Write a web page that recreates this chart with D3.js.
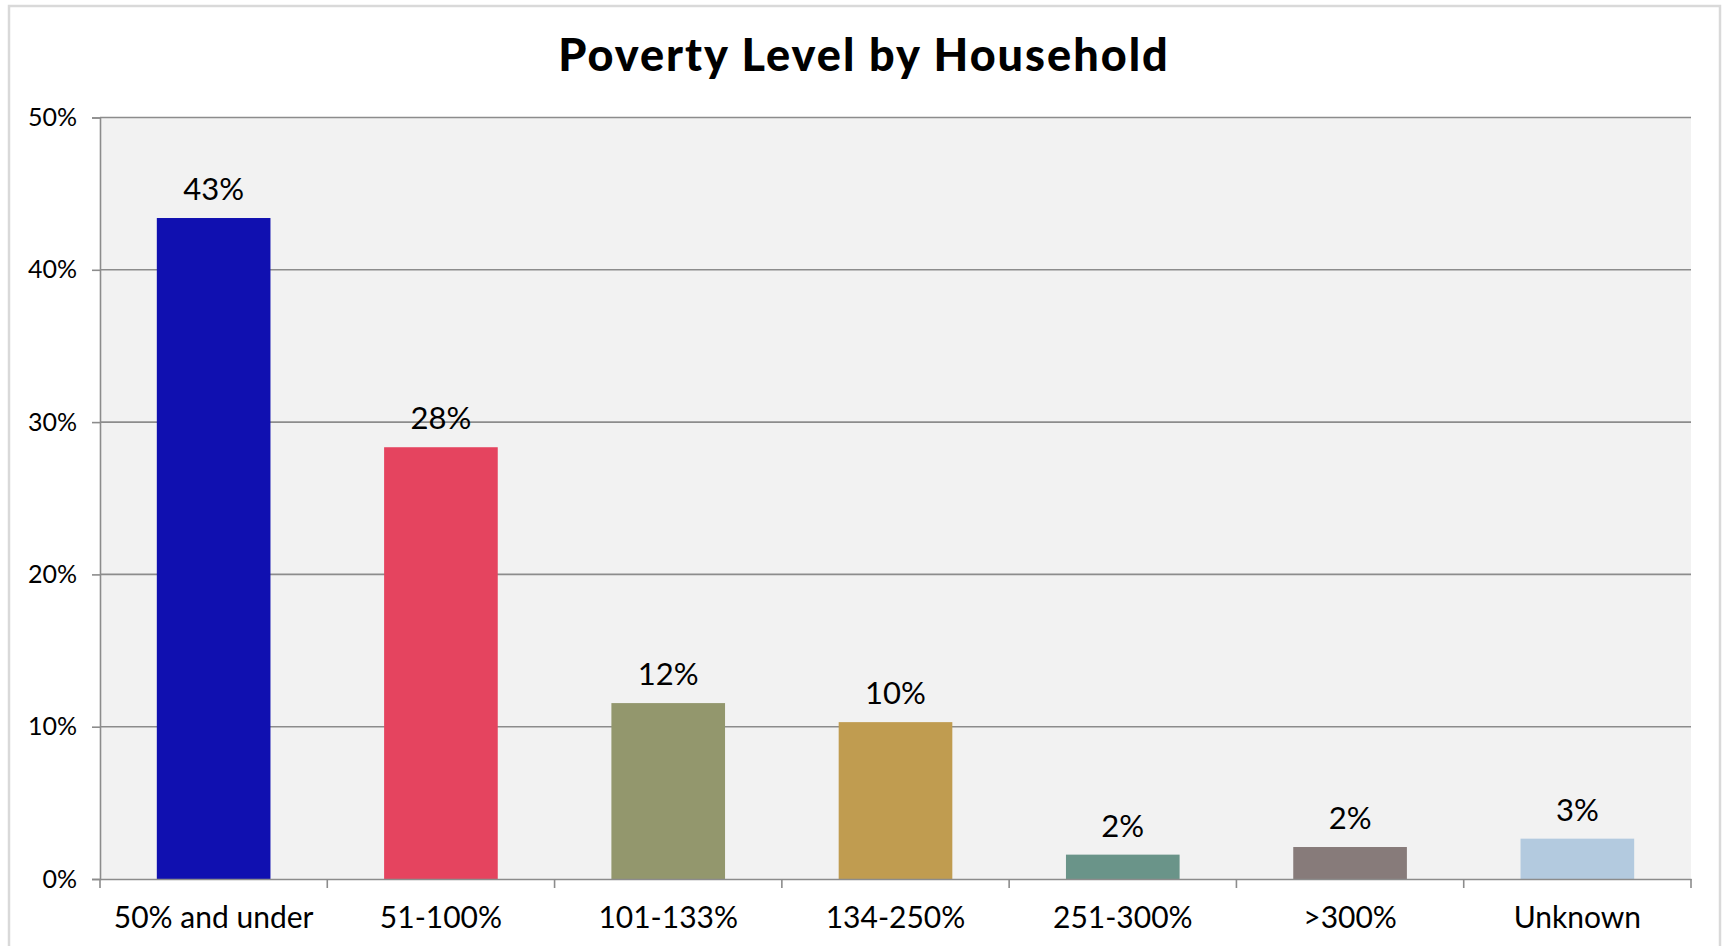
<!DOCTYPE html>
<html>
<head>
<meta charset="utf-8">
<script src="https://cdn.jsdelivr.net/npm/d3@7"></script>
<style>
  html, body { margin: 0; padding: 0; background: #ffffff; }
  svg { display: block; font-family: Lato, "Noto Sans", sans-serif; }
</style>
</head>
<body>
<svg id="chart" width="1723" height="946"></svg>
<script>
// ---- data ----
const categories = ["50% and under", "51-100%", "101-133%", "134-250%", "251-300%", ">300%", "Unknown"];
const values = [43.4, 28.35, 11.55, 10.3, 1.6, 2.1, 2.65];
const colors = ["#1010B0", "#E5445F", "#93976D", "#C09C50", "#6A9489", "#877B7A", "#B3CADF"];
const yTicks = [0, 10, 20, 30, 40, 50];
const title = "Poverty Level by Household";

// ---- layout ----
const W = 1723, H = 946;
const plot = { left: 100, right: 1691, top: 117.5, bottom: 879 };

const svg = d3.select("#chart");

// outer frame
svg.append("rect")
  .attr("x", 9).attr("y", 6)
  .attr("width", 1711).attr("height", 960)
  .attr("fill", "#ffffff")
  .attr("stroke", "#d9d9d9").attr("stroke-width", 2.5);

// title
svg.append("text")
  .attr("x", 864).attr("y", 71)
  .attr("text-anchor", "middle")
  .attr("font-size", 45).attr("font-weight", 900)
  .attr("letter-spacing", 2)
  .attr("fill", "#000")
  .text(title);

const x = d3.scaleBand().domain(categories).range([plot.left, plot.right]).padding(0);
const y = d3.scaleLinear().domain([0, 50]).range([plot.bottom, plot.top]);

// plot background
svg.append("rect")
  .attr("x", plot.left).attr("y", plot.top)
  .attr("width", plot.right - plot.left).attr("height", plot.bottom - plot.top)
  .attr("fill", "#f2f2f2");

// gridlines
svg.append("g").selectAll("line").data(yTicks.filter(d => d > 0)).join("line")
  .attr("x1", plot.left).attr("x2", plot.right)
  .attr("y1", d => y(d)).attr("y2", d => y(d))
  .attr("stroke", "#8c8c8c").attr("stroke-width", 1.6);

// y axis
const yAxis = svg.append("g")
  .attr("transform", `translate(${plot.left},0)`)
  .call(d3.axisLeft(y).tickValues(yTicks).tickFormat(d => d + "%").tickSize(8).tickPadding(15));
yAxis.select(".domain").attr("stroke", "#8c8c8c").attr("stroke-width", 1.6);
yAxis.selectAll(".tick line").attr("stroke", "#8c8c8c").attr("stroke-width", 1.6);
yAxis.selectAll(".tick text").attr("font-size", 25).attr("fill", "#000")
  .attr("font-family", "Lato, 'Noto Sans', sans-serif");

// bars
const barW = x.bandwidth() * 0.5;
svg.append("g").selectAll("rect").data(categories).join("rect")
  .attr("x", c => x(c) + (x.bandwidth() - barW) / 2)
  .attr("width", barW)
  .attr("y", (c, i) => y(values[i]))
  .attr("height", (c, i) => y(0) - y(values[i]))
  .attr("fill", (c, i) => colors[i]);

// data labels
svg.append("g").selectAll("text").data(categories).join("text")
  .attr("x", c => x(c) + x.bandwidth() / 2)
  .attr("y", (c, i) => y(values[i]) - 18)
  .attr("text-anchor", "middle")
  .attr("font-size", 31).attr("fill", "#000")
  .text((c, i) => Math.round(values[i]) + "%");

// x axis
const xAxis = svg.append("g")
  .attr("transform", `translate(0,${plot.bottom})`)
  .call(d3.axisBottom(x).tickSize(0).tickPadding(28));
xAxis.select(".domain").attr("stroke", "#8c8c8c").attr("stroke-width", 1.6);
xAxis.selectAll(".tick text").attr("font-size", 30).attr("fill", "#000")
  .attr("font-family", "Lato, 'Noto Sans', sans-serif");

// boundary tick marks
const edges = categories.map(c => x(c)).concat([x(categories[categories.length - 1]) + x.bandwidth()]);
svg.append("g").selectAll("line").data(edges).join("line")
  .attr("x1", d => d).attr("x2", d => d)
  .attr("y1", plot.bottom).attr("y2", plot.bottom + 9)
  .attr("stroke", "#8c8c8c").attr("stroke-width", 1.6);
</script>
</body>
</html>
